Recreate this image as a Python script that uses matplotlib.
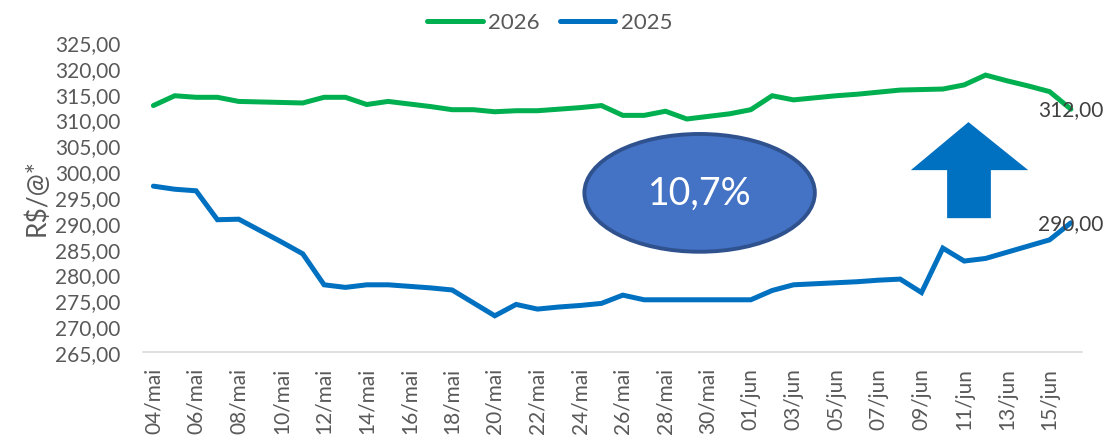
import numpy as np
import matplotlib
matplotlib.use("Agg")
import matplotlib.pyplot as plt
from matplotlib.patches import Ellipse, Polygon

plt.rcParams['font.family'] = ['Lato', 'DejaVu Sans']

# categorias (dias) e series
dias = ['04/mai', '05/mai', '06/mai', '07/mai', '08/mai', '09/mai', '10/mai', '11/mai',
        '12/mai', '13/mai', '14/mai', '15/mai', '16/mai', '17/mai', '18/mai', '19/mai',
        '20/mai', '21/mai', '22/mai', '23/mai', '24/mai', '25/mai', '26/mai', '27/mai',
        '28/mai', '29/mai', '30/mai', '31/mai', '01/jun', '02/jun', '03/jun', '04/jun',
        '05/jun', '06/jun', '07/jun', '08/jun', '09/jun', '10/jun', '11/jun', '12/jun',
        '13/jun', '14/jun', '15/jun', '16/jun']

preco_2026 = [312.7, 314.6, 314.3, 314.3, 313.5, 313.4, 313.3, 313.2, 314.3, 314.3,
              312.9, 313.5, 313.0, 312.5, 311.9, 311.9, 311.5, 311.7, 311.7, 312.0,
              312.3, 312.7, 310.8, 310.8, 311.6, 310.1, 310.6, 311.1, 311.9, 314.6,
              313.8, 314.2, 314.6, 314.9, 315.3, 315.7, 315.8, 315.9, 316.7, 318.6,
              317.5, 316.5, 315.4, 312.0]

preco_2025 = [297.1, 296.5, 296.2, 290.6, 290.7, 288.5, 286.3, 284.0, 278.0, 277.5,
              278.0, 278.0, 277.7, 277.4, 277.0, 274.5, 272.0, 274.2, 273.3, 273.7,
              274.0, 274.4, 276.0, 275.1, 275.1, 275.1, 275.1, 275.1, 275.1, 276.9,
              278.0, 278.2, 278.4, 278.6, 278.9, 279.1, 276.5, 285.1, 282.6, 283.1,
              284.3, 285.5, 286.7, 290.0]

variacao = "10,7%"

verde = '#00B050'
azul = '#0070C0'
cinza = '#595959'

x = np.arange(len(dias))

fig = plt.figure(figsize=(11.15, 4.39), dpi=100)
ax = fig.add_axes([0.128, 0.196, 0.842, 0.706])

ax.plot(x, preco_2026, color=verde, linewidth=3.6, solid_capstyle='round',
        solid_joinstyle='miter', label='2026')
ax.plot(x, preco_2025, color=azul, linewidth=3.6, solid_capstyle='round',
        solid_joinstyle='miter', label='2025')

# rotulos do ultimo ponto
for serie in (preco_2026, preco_2025):
    ax.text(x[-1], serie[-1], f"{serie[-1]:.2f}".replace('.', ','),
            ha='center', va='center', fontsize=15, color='#404040')

ax.set_xlim(-0.5, len(dias) - 0.5)
ax.set_ylim(265, 325)
ax.set_yticks(np.arange(265, 326, 5))
ax.set_yticklabels([f"{v:.2f}".replace('.', ',') for v in np.arange(265, 326, 5)])
ax.set_xticks(x[::2])
ax.set_xticklabels(dias[::2], rotation=90, va='top')

ax.tick_params(axis='both', length=0, labelsize=15, colors=cinza)
ax.tick_params(axis='x', pad=11)
ax.tick_params(axis='y', pad=16)
for s in ('top', 'right', 'left'):
    ax.spines[s].set_visible(False)
ax.spines['bottom'].set_color('#D9D9D9')
ax.spines['bottom'].set_linewidth(1.2)

ax.set_ylabel('R$/@*', fontsize=19, color=cinza, labelpad=4)

# elipse com variacao
ax.add_patch(Ellipse((25.6, 295.8), 10.8, 22.8, facecolor='#4472C4',
                     edgecolor='#2F528F', linewidth=2.8, zorder=4))
ax.text(25.6, 295.8, variacao, ha='center', va='center', fontsize=27,
        color='white', zorder=5)

# seta para cima
seta = [(38.2, 309.5), (41.0, 300.2), (39.25, 300.2), (39.25, 290.9),
        (37.2, 290.9), (37.2, 300.2), (35.5, 300.2)]
ax.add_patch(Polygon(seta, closed=True, facecolor=azul, edgecolor='none', zorder=4))

leg = fig.legend(loc='upper center', bbox_to_anchor=(0.493, 1.015), ncol=2,
                 frameon=False, fontsize=16, handlelength=2.5, handletextpad=0.25,
                 columnspacing=0.9)
for t in leg.get_texts():
    t.set_color(cinza)

fig.savefig('out.png', dpi=100)
